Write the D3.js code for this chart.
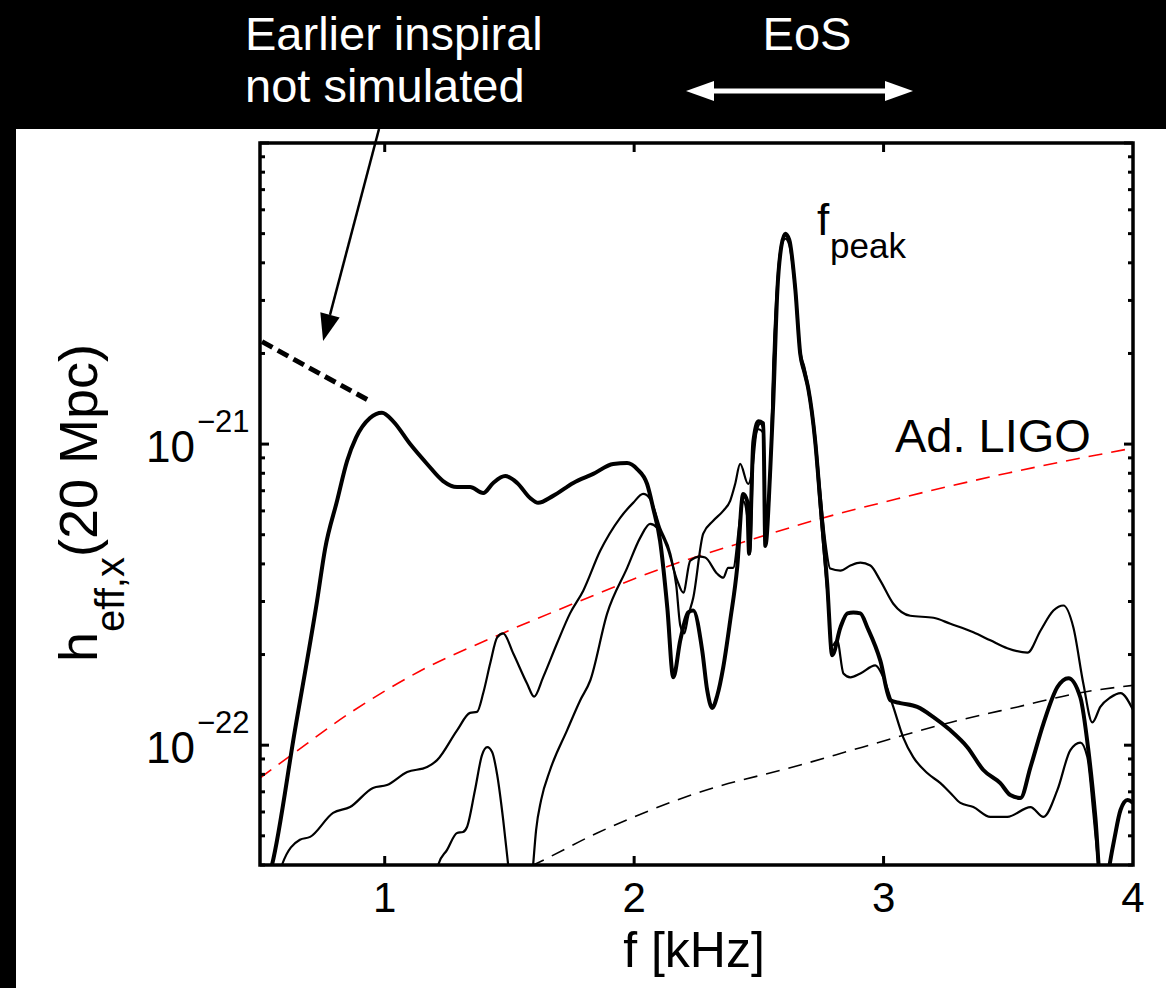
<!DOCTYPE html>
<html>
<head>
<meta charset="utf-8">
<script src="https://cdn.jsdelivr.net/npm/d3@7"></script>
<style>
  body { margin: 0; background: #000; }
  text { font-family: "Liberation Sans", Arial, Helvetica, sans-serif; }
</style>
</head>
<body>
<div id="chart"></div>
<script>
// strain values are given in units of 1e-22
const unit = 1e-22;

// thick curve (reference model)
const thickF = [0.532,0.548,0.640,0.729,0.761,0.809,0.849,0.885,0.941,0.989,1.034,1.102,1.170,1.234,1.290,1.342,1.395,1.435,1.483,1.531,1.583,1.615,1.675,1.756,1.836,1.916,1.972,2.012,2.052,2.076,2.104,2.133,2.157,2.185,2.217,2.237,2.273,2.293,2.313,2.333,2.357,2.385,2.413,2.437,2.453,2.461,2.478,2.498,2.518,2.526,2.546,2.558,2.574,2.590,2.606,2.622,2.646,2.666,2.682,2.698,2.726,2.746,2.774,2.794,2.827,2.855,2.879,2.907,2.935,2.987,3.027,3.067,3.135,3.200,3.268,3.336,3.400,3.468,3.508,3.549,3.589,3.641,3.697,3.741,3.789,3.821,3.849,3.873,3.890,3.906,3.926,3.950,3.978,4.0];
const thickH = [0.357,0.40,1.12,3.02,4.49,6.48,8.78,10.5,12.2,12.7,11.9,10.0,8.59,7.54,7.20,7.20,6.88,7.43,7.83,7.43,6.62,6.38,6.73,7.43,7.96,8.59,8.65,8.26,7.37,6.14,4.77,2.86,1.68,2.23,2.76,2.80,2.06,1.52,1.33,1.46,1.81,2.59,3.88,6.83,6.48,4.32,10.2,11.9,11.7,4.59,8.33,13.9,32.1,45.3,50.0,47.7,32.8,19.9,17.4,15.3,10.2,6.48,3.44,1.99,2.46,2.74,2.76,2.74,2.46,1.91,1.41,1.38,1.34,1.24,1.12,0.985,0.827,0.748,0.683,0.668,0.846,1.18,1.56,1.67,1.44,0.963,0.578,0.331,0.331,0.40,0.492,0.609,0.657,0.643];

// upper thin curve
const thinAF = [0.572,0.588,0.660,0.701,0.793,0.861,0.953,1.009,1.090,1.170,1.210,1.290,1.342,1.370,1.395,1.423,1.451,1.475,1.515,1.571,1.599,1.635,1.691,1.743,1.796,1.864,1.944,1.996,2.036,2.064,2.104,2.145,2.169,2.185,2.201,2.217,2.237,2.277,2.317,2.357,2.385,2.405,2.425,2.457,2.474,2.490,2.506,2.518,2.526,2.546,2.558,2.574,2.590,2.606,2.622,2.646,2.666,2.682,2.698,2.726,2.746,2.766,2.786,2.827,2.867,2.907,2.947,2.987,3.039,3.107,3.200,3.268,3.360,3.428,3.496,3.577,3.629,3.681,3.721,3.761,3.801,3.837,3.869,3.909,3.950,4.0];
const thinAH = [0.357,0.40,0.485,0.496,0.596,0.623,0.721,0.737,0.814,0.846,0.892,1.12,1.28,1.29,1.49,1.87,2.28,2.35,2.02,1.60,1.45,1.68,2.18,2.74,3.26,4.42,5.69,6.38,6.83,6.58,5.27,4.32,3.39,2.50,2.35,2.69,3.09,5.04,5.56,6.00,6.48,7.37,8.59,7.37,8.26,10.9,11.7,11.2,5.56,8.14,18.8,34.7,45.9,49.2,47.0,33.4,20.3,18.1,15.6,10.6,6.99,4.77,3.86,3.80,3.95,4.04,3.95,3.52,2.95,2.69,2.65,2.53,2.37,2.23,2.10,2.03,2.40,2.80,2.91,2.46,1.60,1.19,1.34,1.44,1.49,1.31];

// lower thin curve
const thinBF = [1.202,1.214,1.250,1.290,1.314,1.330,1.362,1.390,1.411,1.431,1.451,1.475,1.495,1.511,1.583,1.595,1.607,1.627,1.663,1.731,1.784,1.824,1.892,1.972,2.024,2.064,2.092,2.133,2.173,2.197,2.225,2.265,2.285,2.333,2.357,2.377,2.397,2.425,2.437,2.453,2.465,2.478,2.498,2.518,2.526,2.546,2.558,2.574,2.590,2.606,2.622,2.646,2.666,2.682,2.698,2.726,2.746,2.774,2.794,2.814,2.839,2.867,2.907,2.967,2.999,3.039,3.079,3.119,3.175,3.228,3.268,3.308,3.360,3.428,3.496,3.589,3.641,3.697,3.749,3.789,3.817,3.841,3.861,3.877,4.0];
const thinBH = [0.357,0.40,0.449,0.511,0.515,0.535,0.710,0.927,0.985,0.948,0.796,0.565,0.40,0.307,0.307,0.40,0.523,0.657,0.827,1.12,1.41,1.64,2.74,3.88,4.88,5.43,5.27,4.53,3.52,3.21,4.10,4.23,4.20,3.71,3.60,3.88,3.88,5.69,6.48,5.78,4.32,9.48,11.2,10.9,4.77,8.14,17.4,33.4,45.3,48.1,45.9,32.1,19.6,17.2,15.0,9.85,6.00,3.26,2.14,2.23,1.73,1.68,1.73,1.84,1.68,1.34,1.06,0.913,0.808,0.748,0.694,0.643,0.623,0.578,0.578,0.623,0.578,0.710,0.963,1.02,0.913,0.596,0.40,0.307,0.307];

// Advanced LIGO sensitivity (red dashed)
const ligoF = [0.5,0.62,0.861,1.14,1.45,1.756,2.117,2.453,2.746,3.055,3.5,4.0];
const ligoH = [0.778,0.920,1.28,1.76,2.31,2.95,3.88,4.77,5.65,6.58,8.02,9.70];

// second detector curve (black dashed)
const detF = [1.503,1.595,1.852,2.265,2.666,2.915,3.268,3.537,3.801,4.0];
const detH = [0.37,0.40,0.511,0.699,0.859,0.985,1.19,1.34,1.50,1.58];

// earlier inspiral (thick dashed)
const inspF = [0.508,0.725,0.941];
const inspH = [21.9,17.4,13.9];

const xTicks = [1, 2, 3, 4];
const yLabelled = [1e-21, 1e-22];

const W = 1166, H = 988;
const svg = d3.select("#chart").append("svg")
  .attr("width", W)
  .attr("height", H);

svg.append("rect").attr("width", W).attr("height", H).attr("fill", "#000");
svg.append("rect").attr("x", 16).attr("y", 129).attr("width", W - 16).attr("height", H - 129).attr("fill", "#fff");

const x = d3.scaleLinear().domain([0.5, 4]).range([260, 1133]);
const y = d3.scaleLog().domain([4e-23, 1e-20]).range([865, 143]);

svg.append("clipPath").attr("id", "plotclip")
  .append("rect")
  .attr("x", 260).attr("y", 143)
  .attr("width", 873).attr("height", 722);

const line = d3.line()
  .x(d => x(d[0]))
  .y(d => y(d[1] * unit))
  .curve(d3.curveMonotoneX);

const pairs = (fs, hs) => fs.map((f, i) => [f, hs[i]]);

const plot = svg.append("g").attr("clip-path", "url(#plotclip)");

// detector noise curves
plot.append("path")
  .attr("d", line(pairs(ligoF, ligoH)))
  .attr("fill", "none").attr("stroke", "#ff0000")
  .attr("stroke-width", 1.6).attr("stroke-dasharray", "14,9");

plot.append("path")
  .attr("d", line(pairs(detF, detH)))
  .attr("fill", "none").attr("stroke", "#000")
  .attr("stroke-width", 1.6).attr("stroke-dasharray", "14,9");

// spectra
plot.append("path")
  .attr("d", line(pairs(thinBF, thinBH)))
  .attr("fill", "none").attr("stroke", "#000").attr("stroke-width", 2.2)
  .attr("stroke-linejoin", "round");

plot.append("path")
  .attr("d", line(pairs(thinAF, thinAH)))
  .attr("fill", "none").attr("stroke", "#000").attr("stroke-width", 2.2)
  .attr("stroke-linejoin", "round");

plot.append("path")
  .attr("d", line(pairs(thickF, thickH)))
  .attr("fill", "none").attr("stroke", "#000").attr("stroke-width", 4)
  .attr("stroke-linejoin", "round");

plot.append("path")
  .attr("d", d3.line().x(d => x(d[0])).y(d => y(d[1] * unit))(pairs(inspF, inspH)))
  .attr("fill", "none").attr("stroke", "#000")
  .attr("stroke-width", 5).attr("stroke-dasharray", "12,6");

// axes box and ticks
const axes = svg.append("g").attr("stroke", "#000").attr("stroke-width", 3);

y.ticks().forEach(t => {
  const major = Math.abs(Math.log10(t) - Math.round(Math.log10(t))) < 1e-6;
  const len = major ? 9 : 5;
  const yy = y(t);
  axes.append("line").attr("x1", 260).attr("x2", 260 + len).attr("y1", yy).attr("y2", yy);
  axes.append("line").attr("x1", 1133).attr("x2", 1133 - len).attr("y1", yy).attr("y2", yy);
});

xTicks.slice(0, 3).forEach(t => {
  axes.append("line").attr("x1", x(t)).attr("x2", x(t)).attr("y1", 865).attr("y2", 856);
  axes.append("line").attr("x1", x(t)).attr("x2", x(t)).attr("y1", 143).attr("y2", 152);
});

axes.append("rect")
  .attr("x", 260).attr("y", 143).attr("width", 873).attr("height", 722)
  .attr("fill", "none").attr("stroke-width", 3.5);

// tick labels
svg.append("g").selectAll("text").data(xTicks).join("text")
  .attr("x", d => x(d)).attr("y", 912)
  .attr("text-anchor", "middle").attr("font-size", 42)
  .text(d => d);

yLabelled.forEach(v => {
  const yy = y(v);
  svg.append("text").attr("x", 195).attr("y", yy + 18)
    .attr("text-anchor", "end").attr("font-size", 44).text("10");
  svg.append("text").attr("x", 197).attr("y", yy - 12)
    .attr("font-size", 31).text("\u2212" + Math.round(-Math.log10(v)));
});

// axis titles
svg.append("text").attr("x", 694).attr("y", 967)
  .attr("text-anchor", "middle").attr("font-size", 50)
  .text("f [kHz]");

const ylab = svg.append("text")
  .attr("transform", "translate(97,662) rotate(-90)")
  .attr("font-size", 54);
ylab.append("tspan").text("h");
ylab.append("tspan").attr("font-size", 40).attr("dy", 27).text("eff,x");
ylab.append("tspan").attr("dy", -27).text("(20 Mpc)");

// in-plot labels
svg.append("text").attr("x", 895).attr("y", 452).attr("font-size", 47).text("Ad. LIGO");
svg.append("text").attr("x", 817).attr("y", 235).attr("font-size", 44).text("f");
svg.append("text").attr("x", 830).attr("y", 258).attr("font-size", 35).text("peak");

// arrow towards the earlier inspiral
const tail = [379, 129];
const tip = [x(0.753), y(2.2e-21)];
const dx = tip[0] - tail[0], dy = tip[1] - tail[1];
const L = Math.hypot(dx, dy), ux = dx / L, uy = dy / L;
const hl = 27, hw = 10;
const bx = tip[0] - hl * ux, by = tip[1] - hl * uy;
svg.append("line")
  .attr("x1", tail[0]).attr("y1", tail[1]).attr("x2", bx).attr("y2", by)
  .attr("stroke", "#000").attr("stroke-width", 2.5);
svg.append("polygon")
  .attr("points", [tip, [bx + hw * uy, by - hw * ux], [bx - hw * uy, by + hw * ux]].map(p => p.join(",")).join(" "))
  .attr("fill", "#000");

// header annotations on the black band
svg.append("text").attr("x", 245).attr("y", 50).attr("font-size", 47).attr("fill", "#fff").text("Earlier inspiral");
svg.append("text").attr("x", 245).attr("y", 102).attr("font-size", 47).attr("fill", "#fff").text("not simulated");
svg.append("text").attr("x", 807).attr("y", 50).attr("font-size", 47).attr("fill", "#fff")
  .attr("text-anchor", "middle").text("EoS");

const ay = 91, ax0 = 686, ax1 = 913, ahl = 28, ahw = 10;
svg.append("line").attr("x1", ax0 + ahl - 2).attr("x2", ax1 - ahl + 2).attr("y1", ay).attr("y2", ay)
  .attr("stroke", "#fff").attr("stroke-width", 5);
svg.append("polygon").attr("points", `${ax0},${ay} ${ax0 + ahl},${ay - ahw} ${ax0 + ahl},${ay + ahw}`).attr("fill", "#fff");
svg.append("polygon").attr("points", `${ax1},${ay} ${ax1 - ahl},${ay - ahw} ${ax1 - ahl},${ay + ahw}`).attr("fill", "#fff");
</script>
</body>
</html>
